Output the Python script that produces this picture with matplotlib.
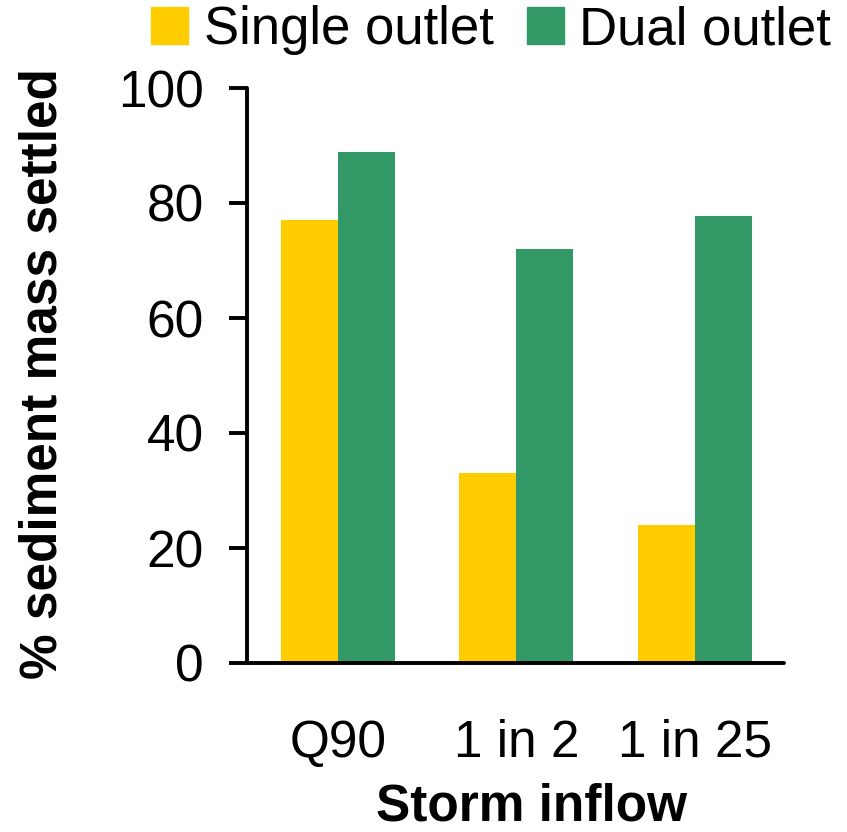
import numpy as np
import matplotlib.pyplot as plt
from matplotlib.patches import Patch

plt.rcParams['font.family'] = ['Liberation Sans', 'DejaVu Sans']

# 数据
categories = ["Q90", "1 in 2", "1 in 25"]
single_outlet = [77, 33, 24]
dual_outlet = [88.9, 72, 77.7]
yticks = [0, 20, 40, 60, 80, 100]

col_single = "#FFCC00"
col_dual = "#339966"

fig = plt.figure(figsize=(8.47, 8.32), dpi=100)
ax = fig.add_axes([247 / 847, (832 - 663) / 832, (784 - 247) / 847, (663 - 88) / 832])

x = np.arange(len(categories))
w = 0.32
ax.bar(x - w / 2, single_outlet, w, color=col_single, label="Single outlet")
ax.bar(x + w / 2, dual_outlet, w, color=col_dual, label="Dual outlet")

ax.set_xlim(-0.51, 2.5)
ax.set_ylim(0, 100)
ax.set_yticks(yticks)
ax.set_xticks(x)
ax.set_xticklabels(categories)

for s in ["top", "right"]:
    ax.spines[s].set_visible(False)
for s in ["left", "bottom"]:
    ax.spines[s].set_linewidth(2.8)
    ax.spines[s].set_capstyle("round")

ax.tick_params(axis="y", direction="out", length=13, width=2.8, pad=18, labelsize=37)
ax.tick_params(axis="x", length=0, pad=40, labelsize=37)

ax.set_ylabel("% sediment mass settled", fontsize=37, fontweight="bold")
ax.yaxis.set_label_coords(-179 / 537, 0.503)
ax.set_xlabel("Storm inflow", fontsize=37, fontweight="bold")
ax.xaxis.set_label_coords(0.53, -0.207)

handles = [Patch(color=col_single, label="Single outlet"),
           Patch(color=col_dual, label="Dual outlet")]
fig.legend(handles=handles, loc="upper left", bbox_to_anchor=(146 / 847, 1.0),
           ncol=2, frameon=False, fontsize=38, handlelength=0.7, handleheight=0.7,
           handletextpad=0.3, columnspacing=0.62, borderpad=0.1, borderaxespad=0)

fig.savefig("out.png", dpi=100)
